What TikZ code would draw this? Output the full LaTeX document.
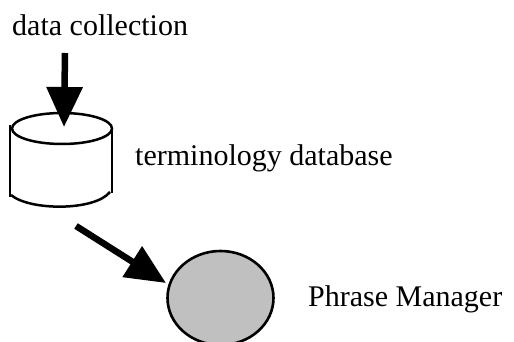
\documentclass[tikz,border=0pt]{standalone}
\usepackage{fontspec}
\setmainfont{Liberation Serif}
\usetikzlibrary{arrows.meta,shapes.geometric}
\definecolor{pmgray}{RGB}{192,192,192}
\tikzset{
  lbl/.style={anchor=base west,inner sep=0pt,font=\fontsize{30}{36}\selectfont},
  outline/.style={line width=2.5pt},
  bigarrow/.style={line width=6.5pt,-{Triangle[length=40pt,width=35pt]}},
  pmnode/.style={ellipse,draw,line width=2.6pt,fill=pmgray,minimum width=106pt,minimum height=94pt,inner sep=0pt}
}
\begin{document}
\begin{tikzpicture}[x=1pt,y=-1pt]
\clip (0,0) rectangle (514,342);
\useasboundingbox (0,0) rectangle (514,342);
% labels
\node[lbl] (dc) at (12,36) {data collection};
\node[lbl] (tdb) at (135,165) {terminology database};
\node[lbl] (pml) at (308,306) {Phrase Manager};
% cylinder
\node[minimum width=102pt,minimum height=95pt,inner sep=0pt] (db) at (61,161) {};
\draw[outline] (62,128.5) ellipse [x radius=50, y radius=15.5];
\draw[outline] (10,125) -- (10,197);
\draw[outline] (112,128) -- (112,193);
\draw[outline] (11,195) .. controls (30,211) and (95,211) .. (110,192);
% Phrase Manager circle
\node[pmnode] (pm) at (220.5,298) {};
% connectors
\coordinate (dcout) at (65,53);
\coordinate (dbin) at (64,127);
\coordinate (dbout) at (76,226);
\coordinate (pmin) at (166,283);
\draw[bigarrow] (dcout) -- (dbin);
\draw[bigarrow] (dbout) -- (pmin);
\end{tikzpicture}
\end{document}
